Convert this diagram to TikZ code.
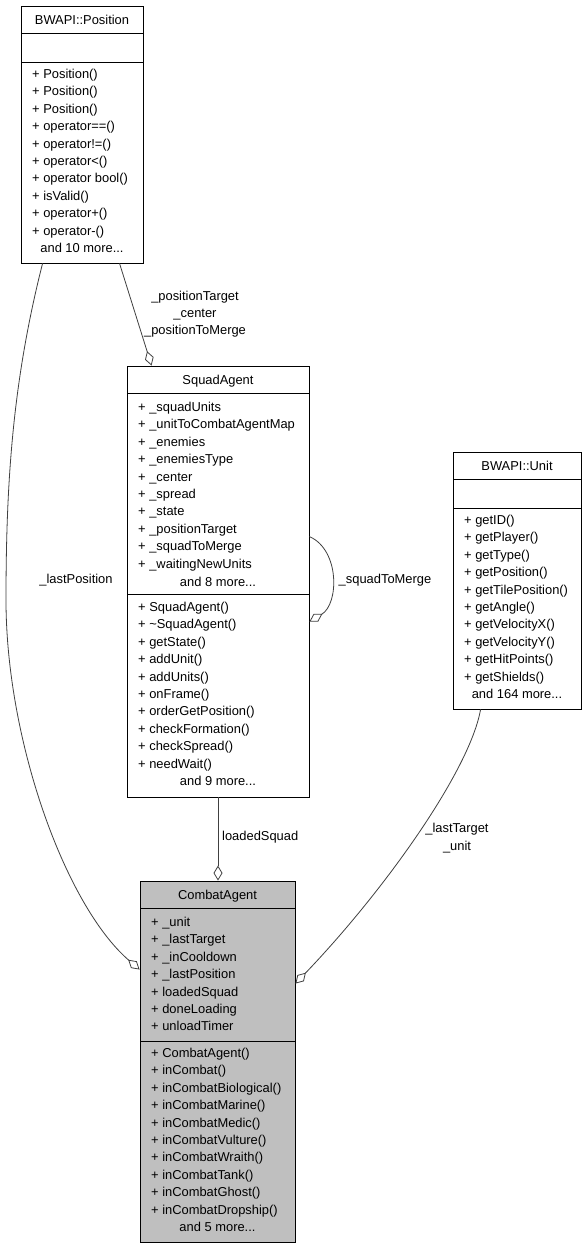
\documentclass[tikz,border=0pt]{standalone}
\usepackage{fontspec}
\setmainfont{Liberation Sans}
\usetikzlibrary{arrows.meta}
\definecolor{edgegray}{HTML}{404040}
\definecolor{combatfill}{HTML}{BFBFBF}
\tikzset{
  umlbox/.style={draw=black, line width=0.9pt, rectangle, inner sep=0pt},
  sepline/.style={draw=black, line width=0.9pt},
  item/.style={anchor=base west, inner sep=0pt, font=\fontsize{12.9}{17.4}\selectfont},
  ctext/.style={anchor=base, inner sep=0pt, font=\fontsize{12.9}{17.4}\selectfont},
  elabel/.style={inner sep=0pt, align=center, font=\fontsize{12.9}{17.2}\selectfont},
  assoc/.style={draw=edgegray, line width=0.8pt, -{Diamond[open,length=15pt,width=9pt]}},
}
\begin{document}
\begin{tikzpicture}[x=1pt,y=-1pt]
\useasboundingbox (0,0) rectangle (587,1248);
\fill[white] (0,0) rectangle (587,1248);

% ---------- BWAPI::Position ----------
\node[umlbox, minimum width=122pt, minimum height=257pt] (pos) at (82,134.5) {};
\draw[sepline] (21,33) -- (143,33);
\draw[sepline] (21,62) -- (143,62);
\node[ctext] (posh) at (82,24) {BWAPI::Position};
\foreach \t [count=\i] in {Position(),Position(),Position(),operator==(),operator!=(),operator<(),operator bool(),isValid(),operator+(),operator-()}
  \node[item] (posm\i) at (32,{78.5+17.4*(\i-1)}) {+ \t};
\node[ctext] (posmore) at (82,252.5) {and 10 more...};

% ---------- SquadAgent ----------
\node[umlbox, minimum width=182pt, minimum height=431pt] (squad) at (218,581.5) {};
\draw[sepline] (127,393) -- (309,393);
\draw[sepline] (127,594) -- (309,594);
\node[ctext] (squadh) at (218,384.5) {SquadAgent};
\foreach \t [count=\i] in {\_squadUnits,\_unitToCombatAgentMap,\_enemies,\_enemiesType,\_center,\_spread,\_state,\_positionTarget,\_squadToMerge,\_waitingNewUnits}
  \node[item] (squada\i) at (138,{411.5+17.4*(\i-1)}) {+ \t};
\node[ctext] (squadamore) at (218,586.5) {and 8 more...};
\foreach \t [count=\i] in {SquadAgent(),\textasciitilde SquadAgent(),getState(),addUnit(),addUnits(),onFrame(),orderGetPosition(),checkFormation(),checkSpread(),needWait()}
  \node[item] (squadm\i) at (138,{611.5+17.4*(\i-1)}) {+ \t};
\node[ctext] (squadmmore) at (218,785.5) {and 9 more...};

% ---------- BWAPI::Unit ----------
\node[umlbox, minimum width=128pt, minimum height=257pt] (unit) at (517,580.5) {};
\draw[sepline] (453,479) -- (581,479);
\draw[sepline] (453,508) -- (581,508);
\node[ctext] (unith) at (517,470) {BWAPI::Unit};
\foreach \t [count=\i] in {getID(),getPlayer(),getType(),getPosition(),getTilePosition(),getAngle(),getVelocityX(),getVelocityY(),getHitPoints(),getShields()}
  \node[item] (unitm\i) at (464,{524.5+17.4*(\i-1)}) {+ \t};
\node[ctext] (unitmore) at (517,698) {and 164 more...};

% ---------- CombatAgent ----------
\node[umlbox, fill=combatfill, minimum width=155pt, minimum height=361pt] (combat) at (217.5,1061.5) {};
\draw[sepline] (140,908) -- (295,908);
\draw[sepline] (140,1041) -- (295,1041);
\node[ctext] (combath) at (217.5,899) {CombatAgent};
\foreach \t [count=\i] in {\_unit,\_lastTarget,\_inCooldown,\_lastPosition,loadedSquad,doneLoading,unloadTimer}
  \node[item] (combata\i) at (151,{926.5+17.4*(\i-1)}) {+ \t};
\foreach \t [count=\i] in {CombatAgent(),inCombat(),inCombatBiological(),inCombatMarine(),inCombatMedic(),inCombatVulture(),inCombatWraith(),inCombatTank(),inCombatGhost(),inCombatDropship()}
  \node[item] (combatm\i) at (151,{1057.5+17.4*(\i-1)}) {+ \t};
\node[ctext] (combatmore) at (217.5,1231.5) {and 5 more...};

% ---------- connectors ----------
\draw[assoc] ([xshift=99pt]pos.south west) -- ([xshift=25pt]squad.north west);
\node[elabel] (lblpos) at (195,314) {\_positionTarget\\\_center\\\_positionToMerge};

\draw[assoc] ([xshift=22pt]pos.south west)
  .. controls (13,380) and (6,480) .. (6,600)
  .. controls (6,740) and (65,905) .. ([yshift=-89pt]combat.north west);
\node[elabel] (lbllastpos) at (76,580) {\_lastPosition};

\draw[assoc] ([yshift=-171pt]squad.north east)
  .. controls (340,550) and (339,604) .. ([yshift=-256pt]squad.north east);
\node[elabel] (lblsquad) at (385,580) {\_squadToMerge};

\draw[assoc] (squad.south) -- (squad.south |- combat.north);
\node[elabel, anchor=west] (lblloaded) at (222,837) {loadedSquad};

\draw[assoc] ([xshift=28pt]unit.south west)
  .. controls (470,770) and (385,890) .. ([yshift=-103pt]combat.north east);
\node[elabel] (lblunit) at (457,838) {\_lastTarget\\\_unit};
\end{tikzpicture}
\end{document}
